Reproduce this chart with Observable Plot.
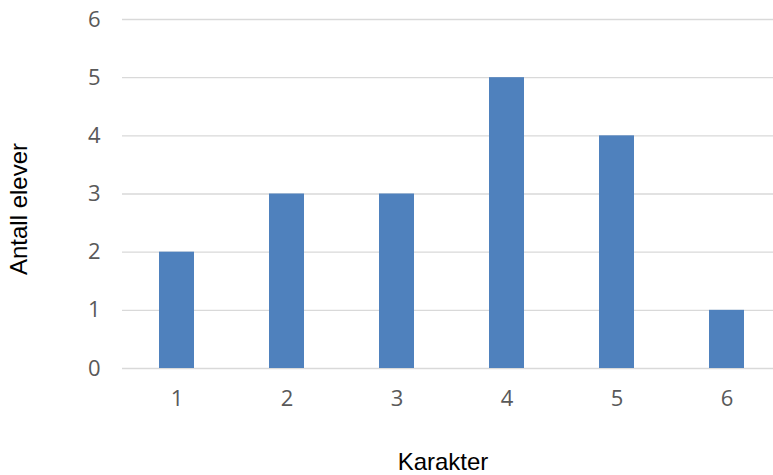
<!DOCTYPE html>
<html>
<head>
<meta charset="utf-8">
<script src="https://cdn.jsdelivr.net/npm/d3@7"></script>
<script src="https://cdn.jsdelivr.net/npm/@observablehq/plot@0.6"></script>
<style>
  html, body { margin: 0; padding: 0; background: #fff; }
</style>
</head>
<body>
<div id="chart"></div>
<script>
const categories = ["1", "2", "3", "4", "5", "6"];
const counts = [2, 3, 3, 5, 4, 1];
const yTicks = [0, 1, 2, 3, 4, 5, 6];
const xLabel = "Karakter";
const yLabel = "Antall elever";

const data = categories.map((c, i) => ({karakter: c, antall: counts[i]}));

const chart = Plot.plot({
  width: 773,
  height: 475,
  marginLeft: 122,
  marginRight: 0,
  marginTop: 19,
  marginBottom: 107,
  style: {fontFamily: "'Open Sans', sans-serif", background: "#fff"},
  x: {domain: categories, range: [121.5, 781.5], paddingInner: 0.686, paddingOuter: 0.343, align: 0.5},
  y: {domain: [0, 6], ticks: yTicks},
  marks: [
    Plot.ruleY(yTicks, {stroke: "#d9d9d9", strokeWidth: 1.3}),
    Plot.barY(data, {x: "karakter", y: "antall", fill: "#4f81bd"}),
    Plot.axisY({ticks: yTicks, tickSize: 0, tickPadding: 22, fontSize: 22, fill: "#595959", label: null, tickFormat: d => String(d)}),
    Plot.axisX({tickSize: 0, tickPadding: 22, fontSize: 22, fill: "#595959", label: null}),
    Plot.text([xLabel], {frameAnchor: "bottom", dx: -5, dy: 94, lineAnchor: "middle", textAnchor: "middle", fontSize: 24, fill: "#000", fontFamily: "'Liberation Sans', Arial, sans-serif"}),
    Plot.text([yLabel], {frameAnchor: "left", dx: -102.7, dy: 15, rotate: -90, lineAnchor: "middle", textAnchor: "middle", fontSize: 24, fill: "#000", fontFamily: "'Liberation Sans', Arial, sans-serif", style: {letterSpacing: "1.2px"}})
  ]
});
document.getElementById("chart").appendChild(chart);
</script>
</body>
</html>
